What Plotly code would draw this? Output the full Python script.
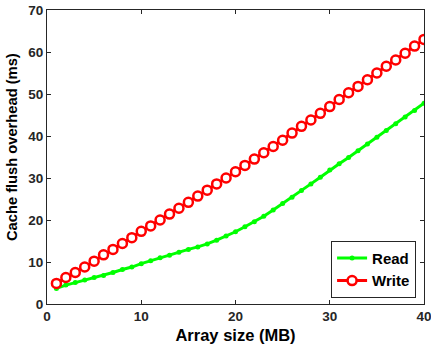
import plotly.graph_objects as go

array_size = list(range(1, 41))
read_ms = [3.7, 4.5, 5.1, 5.7, 6.3, 6.8, 7.5, 8.2, 8.8, 9.6,
           10.3, 11.0, 11.6, 12.3, 13.0, 13.6, 14.3, 15.2, 16.2, 17.2,
           18.4, 19.6, 20.9, 22.4, 23.9, 25.4, 27.0, 28.6, 30.2, 31.9,
           33.4, 34.9, 36.5, 38.1, 39.7, 41.3, 42.9, 44.5, 46.1, 47.8]
write_ms = [4.9, 6.3, 7.5, 8.8, 10.2, 11.7, 13.0, 14.4, 15.8, 17.3,
            18.6, 20.0, 21.4, 22.8, 24.2, 25.7, 27.1, 28.6, 30.0, 31.5,
            33.0, 34.5, 36.0, 37.5, 39.0, 40.7, 42.3, 43.8, 45.4, 47.0,
            48.7, 50.3, 51.8, 53.4, 55.0, 56.6, 58.1, 59.7, 61.4, 63.0]
x_ticks = [0, 10, 20, 30, 40]
y_ticks = [0, 10, 20, 30, 40, 50, 60, 70]
x_title = "Array size (MB)"
y_title = "Cache flush overhead (ms)"

FONT = "Liberation Sans, Arial"

fig = go.Figure()
fig.add_trace(go.Scatter(
    x=array_size, y=read_ms, name="<b>Read</b>", mode="lines+markers",
    line=dict(color="#00ff00", width=3),
    marker=dict(symbol="circle", size=5, color="#00ff00"),
))
fig.add_trace(go.Scatter(
    x=array_size, y=write_ms, name="<b>Write</b>", mode="lines+markers",
    line=dict(color="#ff0000", width=3),
    marker=dict(symbol="circle", size=9, color="white",
                line=dict(color="#ff0000", width=2.5)),
))

axis_common = dict(
    showgrid=False, zeroline=False, showline=True, mirror="ticks",
    linecolor="#262626", linewidth=1, ticks="inside", ticklen=4,
    tickcolor="#262626", automargin=False, ticklabeloverflow="allow",
    tickfont=dict(family=FONT, size=13.5, color="#262626"),
)
fig.update_xaxes(range=[0, 40], tickvals=x_ticks,
                 ticktext=[f"<b>{v}</b>" for v in x_ticks],
                 title=dict(text=f"<b>{x_title}</b>", standoff=6,
                            font=dict(family=FONT, size=16.5, color="black")),
                 **axis_common)
fig.update_yaxes(range=[0, 70], tickvals=y_ticks,
                 ticktext=[f"<b>{v}</b>" for v in y_ticks],
                 **axis_common)

fig.add_annotation(
    text=f"<b>{y_title}</b>", textangle=-90, xref="paper", yref="paper",
    x=-0.0928, y=0.534, xanchor="center", yanchor="middle", showarrow=False,
    font=dict(family=FONT, size=14.7, color="black"),
)

fig.update_layout(
    width=431, height=352,
    margin=dict(l=47, r=7, t=10, b=48),
    plot_bgcolor="white", paper_bgcolor="white",
    legend=dict(x=0.979, y=0.021, xanchor="right", yanchor="bottom",
                bgcolor="white", bordercolor="#262626", borderwidth=1,
                font=dict(family=FONT, size=15, color="black"),
                itemwidth=30, tracegroupgap=0),
    showlegend=True,
)
fig.write_html("out.html", config={"displayModeBar": False},
               post_script="document.body.style.margin='0';document.body.style.padding='0';")
